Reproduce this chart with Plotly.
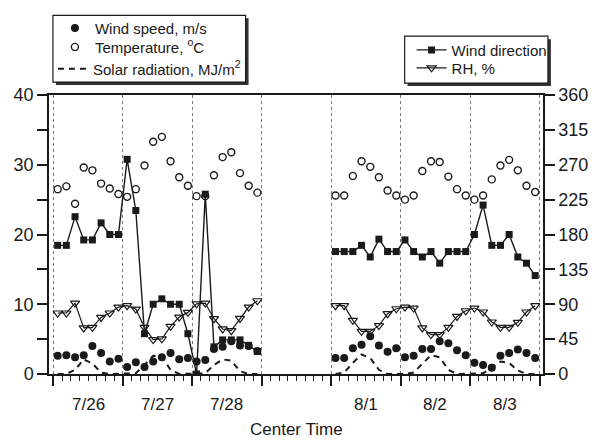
import plotly.graph_objects as go

# ---------------- data ----------------
day_labels = ["7/26", "7/27", "7/28", "8/1", "8/2", "8/3"]
day_index_a = [0, 1, 2]          # 7/26-7/28 on the axis (days)
day_index_b = [4, 5, 6]          # 8/1-8/3 on the axis (days)
center_hours = [1.5, 4.5, 7.5, 10.5, 13.5, 16.5, 19.5, 22.5]

wind_speed_a = [2.6, 2.7, 2.4, 2.7, 4.0, 3.0, 1.8, 2.2,
                1.0, 1.7, 1.0, 1.8, 2.4, 3.0, 2.1, 2.3,
                1.8, 2.0, 3.6, 3.9, 4.7, 4.1, 4.0, 3.3]
wind_speed_b = [2.3, 2.3, 3.7, 4.2, 5.4, 4.1, 3.2, 3.7,
                2.4, 2.6, 3.6, 3.6, 4.7, 4.4, 3.4, 2.7,
                1.6, 1.3, 0.9, 2.6, 3.0, 3.5, 3.0, 2.3]

temperature_a = [26.5, 26.9, 24.4, 29.6, 29.2, 27.3, 26.6, 25.8,
                 25.4, 26.5, 29.9, 33.3, 34.0, 30.5, 28.2, 27.0,
                 25.5, 25.5, 28.5, 31.1, 31.8, 28.8, 27.0, 26.0]
temperature_b = [25.6, 25.6, 28.4, 30.5, 29.7, 28.2, 26.3, 25.6,
                 25.0, 25.6, 29.1, 30.5, 30.4, 28.3, 26.5, 25.6,
                 25.0, 25.6, 27.9, 29.9, 30.7, 29.2, 27.0, 26.1]

solar_a = [0, 0, 0.6, 2.1, 1.5, 0.2, 0, 0,
           0, 0.1, 1.3, 2.6, 2.5, 0.6, 0, 0,
           0, 0.1, 1.3, 2.1, 1.9, 0.4, 0, 0]
solar_b = [0, 0.2, 1.6, 2.8, 2.3, 0.6, 0, 0,
           0, 0.2, 1.4, 2.7, 2.4, 0.6, 0, 0,
           0, 0.1, 0.9, 1.8, 1.6, 0.5, 0, 0]

wind_dir_a = [166, 166, 203, 173, 173, 195, 180, 180,
              277, 211, 52, 90, 97, 90, 90, 52,
              0, 232, 35, 44, 44, 44, 37, 29]
wind_dir_b = [158, 158, 158, 166, 151, 174, 158, 158,
              173, 158, 151, 158, 143, 158, 158, 158,
              180, 218, 166, 166, 180, 151, 143, 127]

rh_a = [78.7, 78.7, 91.5, 59.4, 60.2, 73.0, 78.7, 86.4,
        88.1, 83.8, 60.2, 44.4, 45.3, 61.5, 73.5, 79.5,
        90.6, 91.5, 71.4, 58.1, 55.9, 71.7, 86.4, 94.5]
rh_b = [88.1, 88.1, 69.2, 55.0, 55.0, 62.4, 77.8, 84.2,
        86.4, 85.1, 59.4, 50.8, 50.8, 60.2, 74.3, 81.6,
        85.1, 80.0, 67.1, 60.2, 60.2, 66.6, 80.0, 88.1]

# ---------------- build x (days on axis) ----------------
def times(days):
    return [d + h / 24.0 for d in days for h in center_hours]

xa = times(day_index_a)
xb = times(day_index_b)
x_all = xa + [None] + xb

def join(a, b):
    return list(a) + [None] + list(b)

day_centers = [d + 0.5 for d in day_index_a + day_index_b]

# ---------------- geometry helpers ----------------
W, H = 600, 441
L, R, T, B = 49, 51, 94, 67
PW, PH = W - L - R, H - T - B

def px(xp):
    return (xp - L) / PW

def py(yp):
    return (H - B - yp) / PH

FONT = "Liberation Sans, Arial, sans-serif"
INK = "#1a1a1a"

fig = go.Figure()

fig.add_trace(go.Scatter(
    x=x_all, y=join(solar_a, solar_b), mode="lines",
    name="Solar radiation, MJ/m<sup>2</sup>", legend="legend3",
    line=dict(color=INK, width=2, dash="6px,5px")))
fig.add_trace(go.Scatter(
    x=x_all, y=join(temperature_a, temperature_b), mode="markers",
    name="Temperature, <sup>o</sup>C", legend="legend2",
    marker=dict(symbol="circle-open", size=7, color=INK, line=dict(width=1.4))))
fig.add_trace(go.Scatter(
    x=x_all, y=join(wind_speed_a, wind_speed_b), mode="markers",
    name="Wind speed, m/s", legend="legend",
    marker=dict(symbol="circle", size=8, color=INK)))

fig.add_trace(go.Scatter(
    x=x_all, y=join(rh_a, rh_b), mode="lines+markers",
    name="RH, %", legend="legend5", yaxis="y2",
    line=dict(color=INK, width=1.2),
    marker=dict(symbol="triangle-down-open", size=8, color=INK, line=dict(width=1.2))))
fig.add_trace(go.Scatter(
    x=x_all, y=join(wind_dir_a, wind_dir_b), mode="lines+markers",
    name="Wind direction", legend="legend4", yaxis="y2",
    line=dict(color=INK, width=1.4),
    marker=dict(symbol="square", size=7, color=INK)))

shapes = []
# legend boxes with drop shadow
for (x0, y0, x1, y1) in [(53, 14, 248, 81), (409, 35, 554, 82)]:
    shapes.append(dict(type="rect", xref="paper", yref="paper",
                       x0=px(x0 + 3), x1=px(x1 + 3), y0=py(y1 + 3), y1=py(y0 + 3),
                       fillcolor="#333", line=dict(width=0), layer="above"))
    shapes.append(dict(type="rect", xref="paper", yref="paper",
                       x0=px(x0), x1=px(x1), y0=py(y1), y1=py(y0),
                       fillcolor="white", line=dict(color=INK, width=1.2), layer="above"))

annotations = []
for xc, lab in zip(day_centers, day_labels):
    annotations.append(dict(x=xc, y=py(405), xref="x", yref="paper", text=lab,
                            showarrow=False, xanchor="center", yanchor="middle",
                            font=dict(size=17, color=INK, family=FONT)))
annotations.append(dict(x=0.5, y=py(430), xref="paper", yref="paper", text="Center Time",
                        showarrow=False, xanchor="center", yanchor="middle",
                        font=dict(size=17, color=INK, family=FONT)))

def leg(xp, yp):
    return dict(x=px(xp), y=py(yp), xanchor="left", yanchor="middle",
                bgcolor="rgba(0,0,0,0)", borderwidth=0,
                font=dict(size=15, color=INK, family=FONT))

fig.update_layout(
    width=W, height=H,
    margin=dict(l=L, r=R, t=T, b=B),
    paper_bgcolor="white", plot_bgcolor="white",
    font=dict(family=FONT, color=INK, size=17),
    showlegend=True,
    xaxis=dict(range=[-0.0625, 7.05], tick0=0, dtick=1, showticklabels=False,
               ticks="outside", ticklen=10, tickwidth=1.5, tickcolor=INK,
               showline=True, linewidth=1.5, linecolor=INK, mirror=True,
               showgrid=True, gridcolor="#777", griddash="dot", gridwidth=1,
               zeroline=False,
               minor=dict(tick0=0, dtick=0.125, ticks="outside", ticklen=5,
                          tickwidth=1.2, tickcolor=INK, showgrid=False)),
    yaxis=dict(range=[0, 40], tick0=0, dtick=10, ticks="outside", ticklen=10,
               tickwidth=1.5, tickcolor=INK, showline=True, linewidth=1.5,
               linecolor=INK, showgrid=False, zeroline=False,
               tickfont=dict(size=18, color=INK, family=FONT),
               minor=dict(dtick=5, ticks="outside", ticklen=10, tickwidth=1.5,
                          tickcolor=INK, showgrid=False)),
    yaxis2=dict(range=[0, 360], tick0=0, dtick=45, overlaying="y", side="right",
                ticks="outside", ticklen=10, tickwidth=1.5, tickcolor=INK,
                showline=True, linewidth=1.5, linecolor=INK, showgrid=False,
                zeroline=False, tickfont=dict(size=18, color=INK, family=FONT)),
    legend=leg(55, 27),
    legend2=leg(55, 46),
    legend3=leg(53, 68),
    legend4=leg(416, 49),
    legend5=leg(416, 67),
    shapes=shapes,
    annotations=annotations,
)

fig.write_html("out.html",
               config={"displayModeBar": False},
               post_script="document.body.style.margin='0px';document.body.style.overflow='hidden';")
